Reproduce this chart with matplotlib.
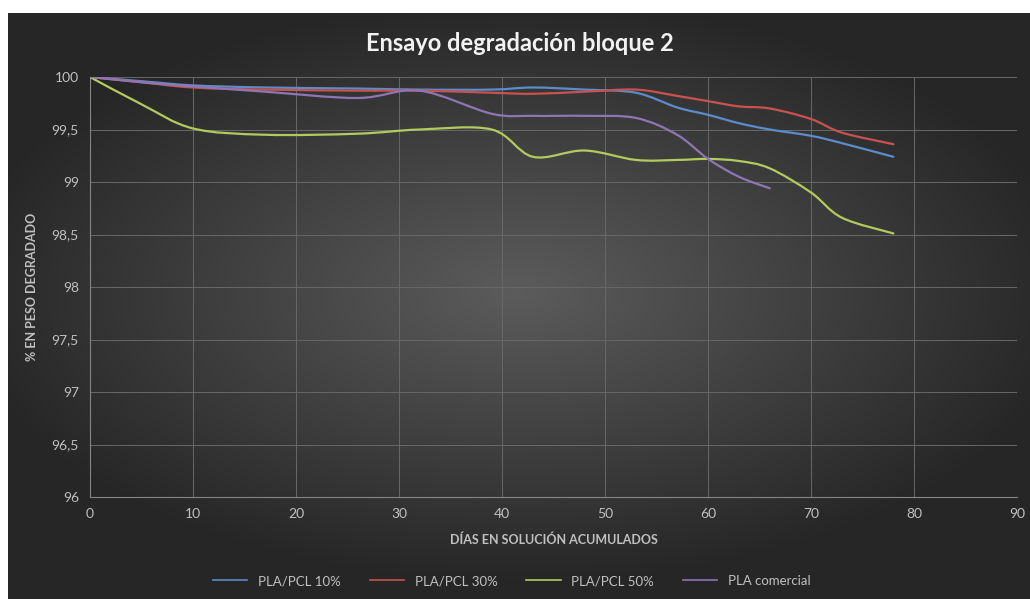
import matplotlib
matplotlib.use("Agg")
import matplotlib.pyplot as plt
import numpy as np
from matplotlib.path import Path
from matplotlib.patches import PathPatch
from matplotlib.lines import Line2D
from matplotlib.ticker import FuncFormatter, MultipleLocator

plt.rcParams['font.family'] = ['Lato', 'DejaVu Sans']

# dias en solucion acumulados
dias = [0, 5, 10, 17, 26, 32, 39, 43, 48, 53, 57, 60, 63, 66, 70, 73, 78]
dias_comercial = [0, 5, 10, 17, 26, 32, 39, 43, 48, 53, 57, 60, 63, 66]

# % en peso (bloque 2)
pcl10 = [100, 99.96, 99.92, 99.90, 99.89, 99.88, 99.88, 99.90, 99.88, 99.85, 99.71,
         99.64, 99.56, 99.50, 99.44, 99.37, 99.24]
pcl30 = [100, 99.95, 99.90, 99.88, 99.87, 99.87, 99.85, 99.84, 99.86, 99.88, 99.82,
         99.77, 99.72, 99.70, 99.60, 99.47, 99.36]
pcl50 = [100, 99.74, 99.51, 99.45, 99.46, 99.50, 99.50, 99.24, 99.30, 99.21, 99.21,
         99.22, 99.20, 99.13, 98.90, 98.66, 98.51]
comercial = [100, 99.95, 99.91, 99.86, 99.80, 99.87, 99.65, 99.63, 99.63, 99.61, 99.45,
             99.22, 99.05, 98.94]

series = [
    ("PLA/PCL 10%", dias, pcl10, "#5b8ccb"),
    ("PLA/PCL 30%", dias, pcl30, "#c9524f"),
    ("PLA/PCL 50%", dias, pcl50, "#b3ca5c"),
    ("PLA comercial", dias_comercial, comercial, "#8e76b5"),
]


# smoothed line like the spreadsheet one: cubic bezier through every point
def smooth_path(x, y):
    pts = np.column_stack([x, y]).astype(float)
    n = len(pts)
    verts = [pts[0]]
    codes = [Path.MOVETO]
    for i in range(n - 1):
        p0 = pts[max(i - 1, 0)]
        p1 = pts[i]
        p2 = pts[i + 1]
        p3 = pts[min(i + 2, n - 1)]
        c1 = p1 + (p2 - p0) / 6.0
        c2 = p2 - (p3 - p1) / 6.0
        verts += [c1, c2, p2]
        codes += [Path.CURVE4] * 3
    return Path(verts, codes)


fig = plt.figure(figsize=(10.30, 5.99), dpi=100)
fig.patch.set_facecolor("white")

# dark radial background of the chart area
bg = fig.add_axes([8 / 1030, 0, 1 - 8 / 1030, 1 - 13 / 599])
gx, gy = np.meshgrid(np.linspace(-1, 1, 400), np.linspace(-1, 1, 240))
r = np.sqrt((gx * 0.95) ** 2 + ((gy + 0.05) * 1.05) ** 2)
shade = np.clip(0.36 - 0.20 * r, 0.15, 0.36)
bg.imshow(np.dstack([shade, shade, shade]), aspect="auto", extent=[0, 1, 0, 1])
bg.set_axis_off()

ax = fig.add_axes([90 / 1030, 1 - 497 / 599, (1017 - 90) / 1030, (497 - 77) / 599])
ax.set_facecolor("none")

handles = []
for name, x, y, color in series:
    ax.add_patch(PathPatch(smooth_path(x, y), facecolor="none", edgecolor=color,
                           lw=1.6, capstyle="round", zorder=3))
    handles.append(Line2D([], [], color=color, lw=1.2, label=name))

ax.set_xlim(0, 90)
ax.set_ylim(96, 100)
ax.xaxis.set_major_locator(MultipleLocator(10))
ax.yaxis.set_major_locator(MultipleLocator(0.5))
ax.yaxis.set_major_formatter(FuncFormatter(lambda v, p: ("%g" % v).replace(".", ",")))

ax.grid(True, color="#686868", lw=0.7)
ax.set_axisbelow(True)
for side in ["top", "right"]:
    ax.spines[side].set_visible(False)
for side in ["left", "bottom"]:
    ax.spines[side].set_color("#858585")
    ax.spines[side].set_linewidth(0.8)
ax.tick_params(length=0, colors="#c0c0c0", labelsize=10, pad=8)

ax.set_xlabel("DÍAS EN SOLUCIÓN ACUMULADOS", color="#c0c0c0", fontsize=9,
              fontweight="bold", labelpad=10)
ax.set_ylabel("% EN PESO DEGRADADO", color="#c0c0c0", fontsize=9,
              fontweight="bold", labelpad=10)

fig.text(0.505, 0.927, "Ensayo degradación bloque 2", color="#f2f2f2", fontsize=17,
         fontweight="bold", ha="center", va="center")

fig.legend(handles=handles, loc="center", bbox_to_anchor=(0.497, 0.03), ncol=4,
           frameon=False, fontsize=9.5, labelcolor="#c0c0c0", handlelength=2.6,
           columnspacing=2.2)

fig.savefig("out.png", dpi=100)
